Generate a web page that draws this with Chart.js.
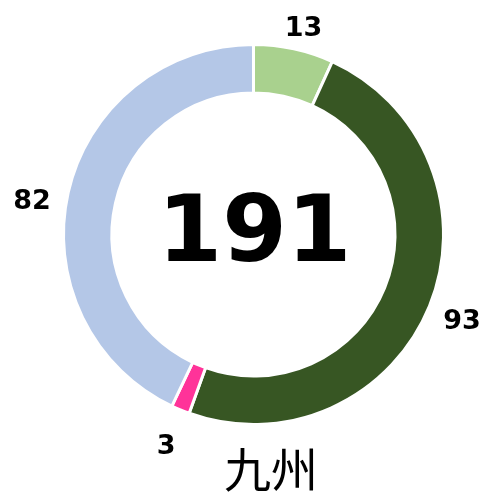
<!DOCTYPE html>
<html>
<head>
<meta charset="utf-8">
<script src="https://cdn.jsdelivr.net/npm/chart.js@4/dist/chart.umd.min.js"></script>
<style>
  html, body { margin: 0; padding: 0; background: #ffffff; }
  #wrap { width: 485px; height: 493px; }
</style>
</head>
<body>
<div id="wrap"><canvas id="chart" width="485" height="493"></canvas></div>
<script>
// Data
const categories = ['A', 'B', 'C', 'D'];
const values = [13, 93, 3, 82];
const sliceColors = ['#a9d18e', '#375623', '#ff3399', '#b4c7e7'];
const regionName = '九州';

const total = values.reduce((a, b) => a + b, 0);

// Draws the value labels outside the ring, the total in the middle and the region name
const labelPlugin = {
    id: 'doughnutLabels',
    afterDraw(chart) {
        const ctx = chart.ctx;
        const meta = chart.getDatasetMeta(0);
        // small hand nudges, the labels in the original were placed by hand
        const nudge = [[3, 3], [3, -4], [-2, 0], [-5, 8]];
        ctx.save();
        ctx.fillStyle = '#000000';
        ctx.textAlign = 'center';
        ctx.textBaseline = 'middle';
        ctx.font = 'bold 27px "DejaVu Sans", Verdana, sans-serif';
        meta.data.forEach((arc, i) => {
            const p = arc.getProps(['x', 'y', 'startAngle', 'endAngle', 'outerRadius'], true);
            const mid = (p.startAngle + p.endAngle) / 2;
            const r = p.outerRadius + 32;
            const n = nudge[i] || [0, 0];
            ctx.fillText(String(values[i]),
                p.x + Math.cos(mid) * r + n[0],
                p.y + 8 + Math.sin(mid) * r + n[1]);
        });

        const first = meta.data[0];
        ctx.font = 'bold 93px "DejaVu Sans", Verdana, sans-serif';
        ctx.textBaseline = 'alphabetic';
        ctx.fillText(String(total), first.x + 1, first.y + 26);

        ctx.font = '47px "Noto Sans CJK JP", sans-serif';
        ctx.textBaseline = 'middle';
        ctx.fillText(regionName, 271, 469);
        ctx.restore();
    }
};

new Chart(document.getElementById('chart').getContext('2d'), {
    type: 'doughnut',
    data: {
        labels: categories,
        datasets: [{
            data: values,
            backgroundColor: sliceColors,
            borderColor: '#ffffff',
            borderWidth: 3
        }]
    },
    options: {
        responsive: false,
        animation: false,
        cutout: '74.5%',
        layout: {
            padding: { left: 62, right: 40, top: 43, bottom: 67 }
        },
        plugins: {
            legend: { display: false },
            tooltip: { enabled: false }
        }
    },
    plugins: [labelPlugin]
});
</script>
</body>
</html>
